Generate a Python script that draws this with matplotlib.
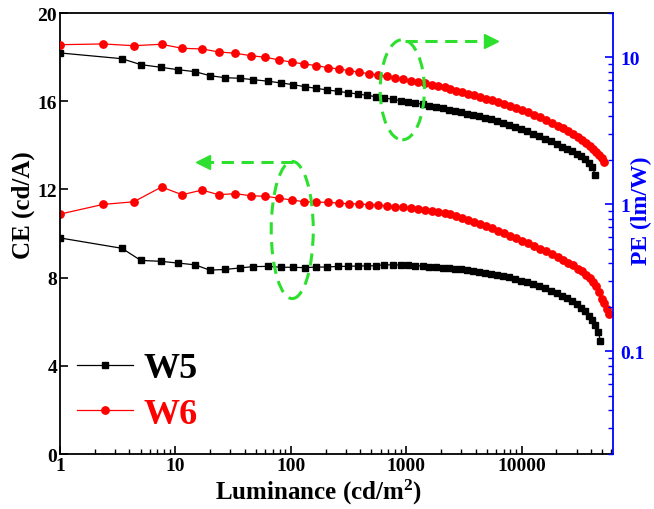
import matplotlib
matplotlib.use('Agg')
import matplotlib.pyplot as plt
from matplotlib import ticker
from matplotlib.patches import Ellipse

# luminance (cd/m2) for each device
lum_w5 = [1.0, 3.44, 5.02, 7.47, 10.55, 14.82, 19.88, 26.98, 36.26, 47.38,
          63.9, 82.1, 105.3, 132.0, 166.1, 207.7, 255.2, 312.8, 378.8, 455.2,
          542.8, 645.9, 762.1, 898, 1039, 1202, 1388, 1589, 1824, 2081,
          2365, 2666, 3006, 3388, 3820, 4306, 4853, 5472, 6168, 6954,
          7838, 8836, 9961, 11230, 12660, 14270, 16090, 18140, 20440, 22590,
          24960, 27590, 30480, 33020, 35760, 38730, 41130, 43670, 46370, 48250]
lum_w6 = [1.0, 2.36, 4.36, 7.59, 11.43, 17.01, 23.79, 33.07, 45.26,
          60.21, 79.64, 102.2, 131.5, 167.1, 209.8, 260.3, 322.3, 393.6, 475.8,
          569.3, 678.9, 802.8, 941.9, 1094, 1261, 1450, 1661, 1895, 2158,
          2413, 2720, 3066, 3456, 3896, 4393, 4951, 5581, 6292, 7093,
          7997, 9014, 10160, 11460, 12910, 14560, 16410, 18500, 20860, 23040,
          25460, 28130, 31090, 33680, 36480, 39520, 41950, 44540, 47290, 50220,
          52260, 55500, 57740]

# current efficiency (cd/A)
ce_w5 = [9.80, 9.33, 8.78, 8.74, 8.66, 8.58, 8.34, 8.37, 8.44, 8.50,
         8.51, 8.47, 8.47, 8.45, 8.48, 8.48, 8.51, 8.51, 8.53, 8.53,
         8.54, 8.58, 8.58, 8.57, 8.56, 8.54, 8.53, 8.50, 8.48, 8.45,
         8.44, 8.41, 8.38, 8.34, 8.30, 8.26, 8.22, 8.18, 8.13, 8.07,
         8.01, 7.94, 7.86, 7.78, 7.70, 7.61, 7.51, 7.40, 7.29, 7.18,
         7.07, 6.94, 6.79, 6.64, 6.49, 6.28, 6.10, 5.87, 5.53, 5.12]
ce_w6 = [10.88, 11.32, 11.44, 12.11, 11.76, 11.97, 11.76, 11.81, 11.71,
         11.69, 11.60, 11.52, 11.44, 11.43, 11.41, 11.38, 11.35, 11.34, 11.31,
         11.29, 11.26, 11.22, 11.19, 11.16, 11.13, 11.08, 11.04, 10.99, 10.93,
         10.87, 10.79, 10.71, 10.63, 10.54, 10.44, 10.34, 10.24, 10.13, 10.02,
         9.91, 9.80, 9.68, 9.56, 9.44, 9.32, 9.21, 9.07, 8.93, 8.81,
         8.68, 8.55, 8.41, 8.28, 8.14, 7.97, 7.80, 7.60, 7.35, 7.03,
         6.85, 6.58, 6.35]

# power efficiency (lm/W)
pe_w5 = [10.70, 9.78, 8.91, 8.55, 8.23, 7.98, 7.50, 7.26, 7.20, 7.04,
         6.87, 6.69, 6.51, 6.31, 6.15, 5.99, 5.87, 5.74, 5.63, 5.51,
         5.40, 5.29, 5.18, 5.07, 4.99, 4.89, 4.79, 4.69, 4.59, 4.52,
         4.40, 4.31, 4.23, 4.14, 4.05, 3.96, 3.87, 3.78, 3.68, 3.58,
         3.46, 3.35, 3.24, 3.14, 3.02, 2.92, 2.79, 2.68, 2.57, 2.47,
         2.38, 2.29, 2.20, 2.12, 2.03, 1.91, 1.78, 1.58]
pe_w6 = [12.18, 12.32, 11.99, 12.26, 11.51, 11.39, 10.87, 10.65, 10.25,
         10.00, 9.59, 9.25, 9.00, 8.77, 8.50, 8.33, 8.11, 7.91, 7.73,
         7.58, 7.43, 7.23, 7.09, 6.93, 6.79, 6.66, 6.51, 6.38, 6.25,
         6.05, 5.92, 5.79, 5.65, 5.51, 5.37, 5.24, 5.10, 4.96, 4.81,
         4.66, 4.52, 4.37, 4.23, 4.07, 3.91, 3.75, 3.58, 3.42, 3.28,
         3.13, 2.99, 2.86, 2.74, 2.61, 2.48, 2.38, 2.27, 2.16, 2.05,
         1.94]

labels = ['W5', 'W6']
colors = ['black', 'red']
markers = ['s', 'o']

SERIF = 'Liberation Serif'
GREEN = '#2ee02e'

plt.rcParams['mathtext.fontset'] = 'custom'
plt.rcParams['mathtext.rm'] = SERIF + ':bold'
plt.rcParams['mathtext.it'] = SERIF + ':bold'
plt.rcParams['mathtext.bf'] = SERIF + ':bold'
plt.rcParams['mathtext.default'] = 'rm'


def add_green_marks(ax):
    # dashed ellipses with arrows pointing to the relevant axis
    dash = (0, (4, 2.5))
    kw = dict(fill=False, edgecolor=GREEN, linewidth=2.2, linestyle=dash,
              transform=ax.transAxes, zorder=10, clip_on=False)
    ax.add_patch(Ellipse((0.619, 0.826), 0.080, 0.227, **kw))
    ax.add_patch(Ellipse((0.420, 0.508), 0.076, 0.311, **kw))
    ax.plot([0.624, 0.772], [0.937, 0.937], color=GREEN, lw=2.2, ls=dash,
            transform=ax.transAxes, zorder=10, clip_on=False)
    ax.plot([0.779], [0.937], marker='>', ms=10, color=GREEN, ls='none',
            transform=ax.transAxes, zorder=10, clip_on=False)
    ax.plot([0.421, 0.266], [0.662, 0.662], color=GREEN, lw=2.2, ls=dash,
            transform=ax.transAxes, zorder=10, clip_on=False)
    ax.plot([0.259], [0.662], marker='<', ms=10, color=GREEN, ls='none',
            transform=ax.transAxes, zorder=10, clip_on=False)


def main():
    fig = plt.figure(figsize=(6.54, 5.10), dpi=100)
    ax = fig.add_axes([0.0917, 0.1078, 0.8456, 0.8647])
    ax2 = ax.twinx()

    lums = [lum_w5, lum_w6]
    ces = [ce_w5, ce_w6]
    pes = [pe_w5, pe_w6]
    ms = [4.8, 5.3]
    for i in range(2):
        ax.plot(lums[i][:len(ces[i])], ces[i], color=colors[i], marker=markers[i],
                ms=ms[i], lw=0.9, label=labels[i])
        ax2.plot(lums[i][:len(pes[i])], pes[i], color=colors[i], marker=markers[i],
                 ms=ms[i], lw=0.9)

    ax.set_xscale('log')
    ax.set_xlim(1, 62000)
    ax.set_ylim(0, 20)
    ax.set_yticks([0, 4, 8, 12, 16, 20])
    ax2.set_yscale('log')
    ax2.set_ylim(0.02, 20)

    fmt = ticker.FuncFormatter(lambda v, _: f'{v:g}')
    ax.xaxis.set_major_formatter(fmt)
    ax.xaxis.set_minor_formatter(ticker.NullFormatter())
    ax2.yaxis.set_major_locator(ticker.FixedLocator([0.1, 1, 10]))
    ax2.yaxis.set_major_formatter(fmt)
    ax2.yaxis.set_minor_locator(ticker.LogLocator(subs=range(2, 10)))
    ax2.yaxis.set_minor_formatter(ticker.NullFormatter())

    ax.tick_params(axis='both', which='major', direction='in', length=6, width=1.2,
                   labelsize=14, top=False, right=False, pad=2)
    ax.tick_params(axis='both', which='minor', direction='in', length=3.5, width=1.0,
                   top=False, right=False)
    ax.tick_params(axis='y', which='minor', left=False)
    ax2.tick_params(axis='y', which='major', direction='in', length=6, width=1.2,
                    labelsize=14, colors='blue', pad=5.5)
    ax2.tick_params(axis='y', which='minor', direction='in', length=3.5, width=1.0,
                    colors='blue')

    for lab in ax.get_xticklabels() + ax.get_yticklabels() + ax2.get_yticklabels():
        lab.set_fontfamily(SERIF)
        lab.set_fontweight('bold')

    for s in ['left', 'bottom', 'top']:
        ax.spines[s].set_linewidth(1.3)
    ax.spines['right'].set_visible(False)
    for s in ['left', 'bottom', 'top']:
        ax2.spines[s].set_visible(False)
    ax2.spines['right'].set_color('blue')
    ax2.spines['right'].set_linewidth(1.3)

    ax.set_xlabel('Luminance (cd/m$^2$)', family=SERIF, weight='bold', fontsize=18)
    ax.xaxis.set_label_coords(0.468, -0.052)
    ax.set_ylabel('CE (cd/A)', family=SERIF, weight='bold', fontsize=18)
    ax.yaxis.set_label_coords(-0.045, 0.567)
    ax2.set_ylabel('PE (lm/W)', family=SERIF, weight='bold', fontsize=17, color='blue')
    ax2.yaxis.set_label_coords(1.032, 0.555)

    leg = ax.legend(loc='lower left', bbox_to_anchor=(0.005, 0.02), frameon=False,
                    prop={'family': SERIF, 'weight': 'bold', 'size': 26},
                    handlelength=1.55, handletextpad=0.3, labelspacing=0.34,
                    borderaxespad=0, markerscale=1.0)
    for txt, c in zip(leg.get_texts(), colors):
        txt.set_color(c)

    add_green_marks(ax2)

    fig.savefig('out.png', dpi=100)
    return


if __name__ == '__main__':
    main()
